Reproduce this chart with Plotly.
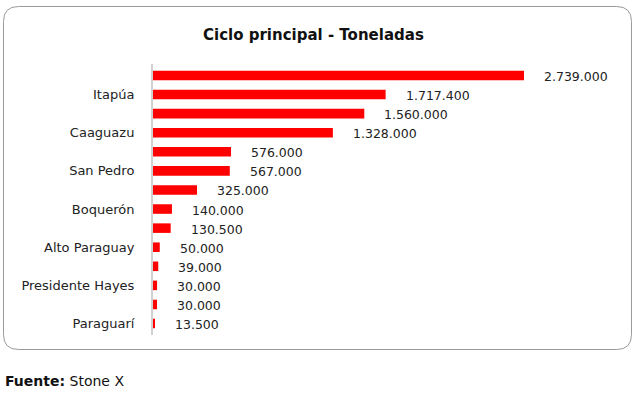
import plotly.graph_objects as go

# Data (top to bottom)
values = [2739000, 1717400, 1560000, 1328000, 576000, 567000, 325000,
          140000, 130500, 50000, 39000, 30000, 30000, 13500]
value_labels = ["2.739.000", "1.717.400", "1.560.000", "1.328.000", "576.000",
                "567.000", "325.000", "140.000", "130.500", "50.000", "39.000",
                "30.000", "30.000", "13.500"]
visible_label_index = [1, 3, 5, 7, 9, 11, 13]
visible_labels = ["Itapúa", "Caaguazu", "San Pedro", "Boquerón", "Alto Paraguay",
                  "Presidente Hayes", "Paraguarí"]
title_text = "Ciclo principal - Toneladas"
source_text = "<b>Fuente:</b> Stone X"

W, H = 635, 395
L, R, T, B = 153, 35, 64, 60
PW, PH = W - L - R, H - T - B

def px(x):
    return (x - L) / PW

def py(y):
    return (H - B - y) / PH

FONT = "DejaVu Sans"
positions = list(range(len(values)))

fig = go.Figure()
fig.add_trace(go.Bar(
    x=values, y=positions, orientation="h",
    marker=dict(color="#ff0000", line=dict(width=0)),
    width=0.5, hoverinfo="skip",
))

annotations = []
for p, v, t in zip(positions, values, value_labels):
    annotations.append(dict(x=v, y=p, xref="x", yref="y", text=t, showarrow=False,
                            xanchor="left", yanchor="middle", xshift=18, yshift=-1,
                            font=dict(family=FONT, size=12.5, color="#222222")))
annotations.append(dict(x=px(313), y=py(35), xref="paper", yref="paper", text=f"<b>{title_text}</b>",
                        showarrow=False, xanchor="center", yanchor="middle",
                        font=dict(family=FONT, size=15, color="#111111")))
annotations.append(dict(x=px(3), y=py(381), xref="paper", yref="paper", text=source_text,
                        showarrow=False, xanchor="left", yanchor="middle",
                        font=dict(family=FONT, size=14, color="#111111")))

# rounded border box
x0, x1, y0, y1 = px(3.5), px(631.5), py(349.5), py(6.5)
rx, ry = 15 / PW, 15 / PH
path = (f"M {x0+rx},{y1} L {x1-rx},{y1} Q {x1},{y1} {x1},{y1-ry} "
        f"L {x1},{y0+ry} Q {x1},{y0} {x1-rx},{y0} "
        f"L {x0+rx},{y0} Q {x0},{y0} {x0},{y0+ry} "
        f"L {x0},{y1-ry} Q {x0},{y1} {x0+rx},{y1} Z")

fig.update_layout(
    width=W, height=H, autosize=False,
    margin=dict(l=L, r=R, t=T, b=B),
    paper_bgcolor="white", plot_bgcolor="white",
    showlegend=False, bargap=0.5,
    xaxis=dict(range=[0, 2739000 * PW / 371], showgrid=False, zeroline=False,
               showticklabels=False, showline=False, ticks=""),
    yaxis=dict(range=[13.6, -0.6], tickvals=visible_label_index, ticktext=visible_labels,
               showgrid=False, zeroline=False, showline=True, linecolor="#d0d0d0",
               linewidth=2, ticks="", ticklabelstandoff=14,
               tickfont=dict(family=FONT, size=13, color="#222222")),
    annotations=annotations,
    shapes=[dict(type="path", path=path, xref="paper", yref="paper",
                 line=dict(color="#9a9a9a", width=1), layer="below")],
)

fig.write_html("out.html", config={"displayModeBar": False},
               post_script="document.body.style.margin='0';document.body.style.overflow='hidden';")
